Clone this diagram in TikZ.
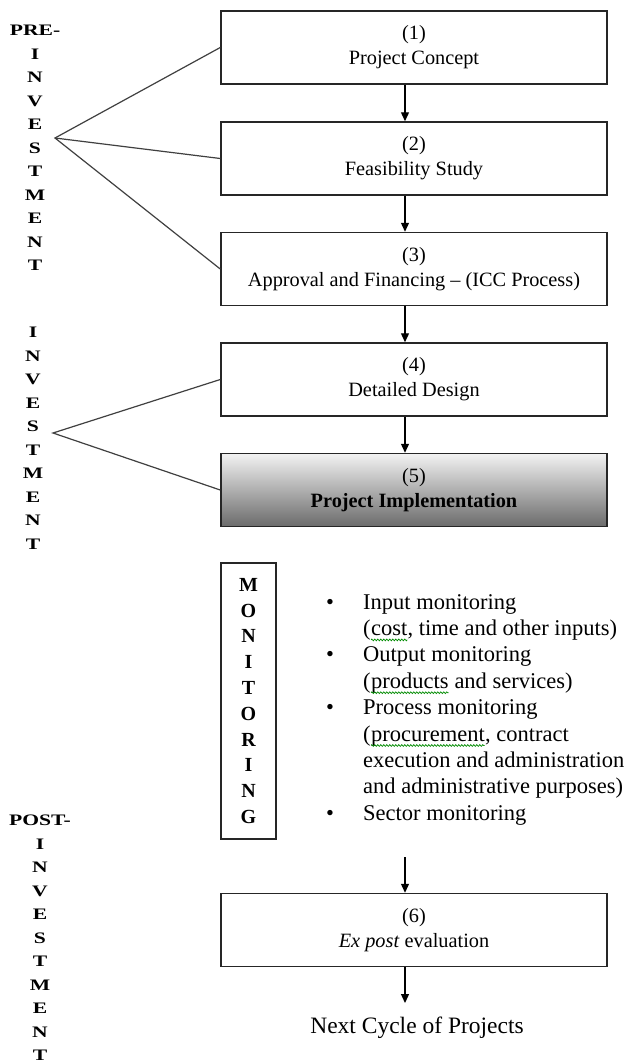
\documentclass[tikz,border=0pt]{standalone}
\usepackage{fontspec}
\setmainfont{Liberation Serif}
\newfontfamily\lblfont[FakeStretch=1.35]{Liberation Serif}
\usetikzlibrary{arrows.meta,decorations.pathmorphing}
\newcommand\gsq[1]{\tikz[baseline=(w.base),x=1pt,y=1pt]{\node[inner sep=0pt,outer sep=0pt,anchor=base] (w) {#1};
  \draw[green!55!black,line width=0.7pt,decorate,decoration={zigzag,segment length=3pt,amplitude=0.9pt}]
  ([yshift=-4.5pt]w.base west) -- ([yshift=-4.5pt]w.base east);}}
\begin{document}
\begin{tikzpicture}[x=1pt,y=-1pt,
  stage/.style={draw=black!85, line width=1.5pt, minimum width=386pt, minimum height=73pt,
    inner sep=0pt, align=center, font=\fontsize{20.3}{25}\selectfont},
  flow/.style={line width=1.3pt, -{Triangle[width=8pt,length=9pt]}},
  link/.style={draw=black!75, line width=1.2pt},
  phase/.style={inner sep=0pt, anchor=north, align=center,
    font=\lblfont\bfseries\fontsize{16}{23.5}\selectfont},
  monbox/.style={draw=black!85, line width=1.5pt, minimum width=55pt, minimum height=276pt,
    inner sep=0pt, align=center, font=\bfseries\fontsize{20}{25.8}\selectfont}]
\useasboundingbox (0,0) rectangle (628,1063);
\fill[white] (0,0) rectangle (628,1063);
\coordinate (axis) at (405,0);

% stages
\node[stage] (s1) at (414,47.5) {(1)\\Project Concept};
\node[stage] (s2) at (414,158.5) {(2)\\Feasibility Study};
\node[stage] (s3) at (414,269) {(3)\\Approval and Financing -- (ICC Process)};
\node[stage] (s4) at (414,379.5) {(4)\\Detailed Design};
\node[stage, top color=black!5, middle color=black!22, bottom color=black!58] (s5) at (414,490)
  {(5)\\\textbf{Project Implementation}};
\node[stage] (s6) at (414,930) {(6)\\\textit{Ex post} evaluation};

% arrows
\draw[flow] (s1.south -| axis) -- (s2.north -| axis);
\draw[flow] (s2.south -| axis) -- (s3.north -| axis);
\draw[flow] (s3.south -| axis) -- (s4.north -| axis);
\draw[flow] (s4.south -| axis) -- (s5.north -| axis);
\coordinate (m0) at (405,857);
\draw[flow] (m0) -- (s6.north -| axis);
\coordinate (nx) at (405,1003);
\draw[flow] (s6.south -| axis) -- (nx);
\node[font=\fontsize{23.5}{28}\selectfont, inner sep=0pt] (next) at (417,1028) {Next Cycle of Projects};

% phase labels
\node[phase] (pre) at (35,25) {PRE-\\I\\N\\V\\E\\S\\T\\M\\E\\N\\T};
\node[phase] (inv) at (33,327) {I\\N\\V\\E\\S\\T\\M\\E\\N\\T};
\node[phase] (post) at (40,815) {POST-\\I\\N\\V\\E\\S\\T\\M\\E\\N\\T};

\coordinate (preJ) at (55,138);
\draw[link] (s1.west) -- (preJ) -- (s3.west);
\draw[link] (preJ) -- (s2.west);
\coordinate (invJ) at (53,433);
\draw[link] (s4.west) -- (invJ) -- (s5.west);

% monitoring
\node[monbox] (mon) at (248.5,701) {M\\O\\N\\I\\T\\O\\R\\I\\N\\G};
\node[anchor=base west, inner sep=0pt, font=\fontsize{22.5}{26.4}\selectfont] (list) at (326,609)
{\begin{tabular}[t]{@{}p{37pt}@{}l@{}}
\textbullet & Input monitoring\\
 & (\gsq{cost}, time and other inputs)\\
\textbullet & Output monitoring\\
 & (\gsq{products} and services)\\
\textbullet & Process monitoring\\
 & (\gsq{procurement}, contract\\
 & execution and administration\\
 & and administrative purposes)\\
\textbullet & Sector monitoring
\end{tabular}};
\end{tikzpicture}
\end{document}
